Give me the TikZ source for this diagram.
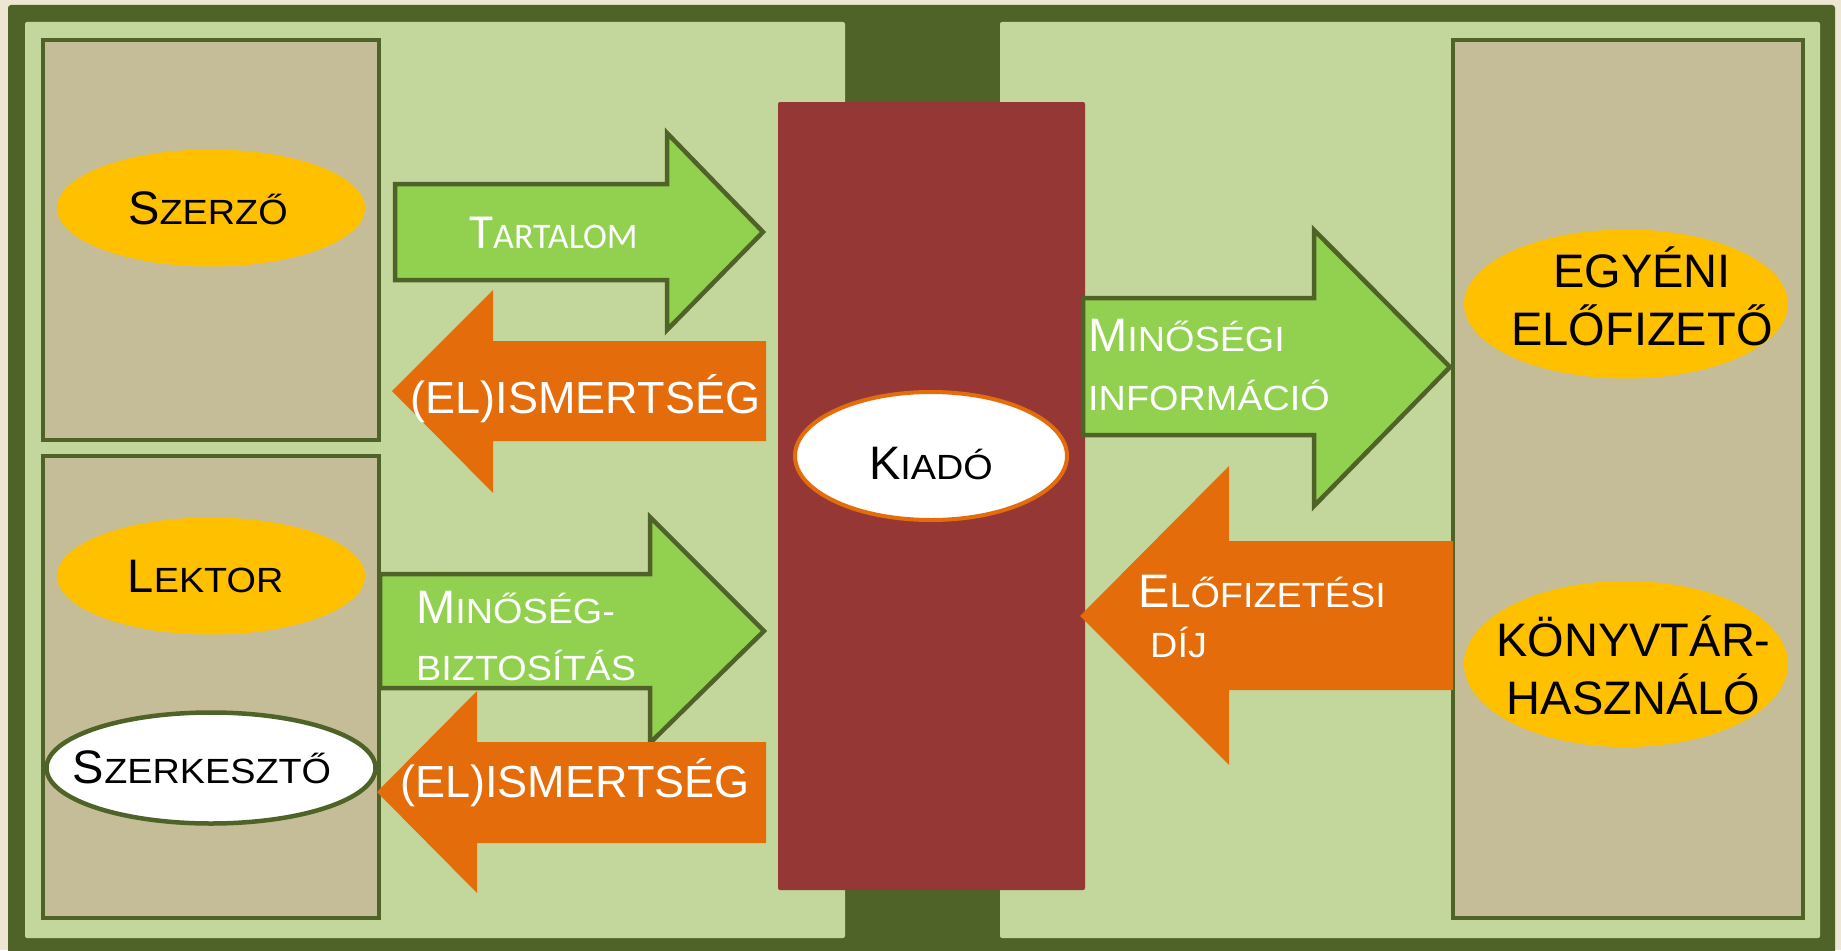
\documentclass[tikz,border=0pt]{standalone}
\usepackage{fontspec}
\setmainfont{Liberation Sans}
\newfontfamily\kisfont[FakeStretch=1.08]{Liberation Sans}
\newfontfamily\calibri{Carlito}
\usetikzlibrary{positioning,shapes.geometric}

\definecolor{hatter}{HTML}{ECE6D2}
\definecolor{sotetzold}{HTML}{4F6228}
\definecolor{vilagzold}{HTML}{C3D69B}
\definecolor{bezs}{HTML}{C4BD97}
\definecolor{bordo}{HTML}{953735}
\definecolor{nyilzold}{HTML}{92D050}
\definecolor{narancs}{HTML}{E46C0A}
\definecolor{sarga}{HTML}{FFC000}

% kiskapitalis: nagy kezdobetu + kisebb nagybetuk
\newcommand{\nagy}{\fontsize{47}{56}\selectfont}
\newcommand{\kicsi}{\kisfont\fontsize{35}{42}\selectfont}
\newcommand{\kiskap}[2]{{\nagy #1}{\kicsi #2}}

\begin{document}
\begin{tikzpicture}[x=1pt,y=-1pt]
    \tikzstyle{keret} = [fill=sotetzold, rounded corners=3pt]
    \tikzstyle{panel} = [fill=vilagzold, rounded corners=2pt]
    \tikzstyle{doboz} = [draw=sotetzold, line width=4.5pt, fill=bezs]
    \tikzstyle{szereplo} = [ellipse, fill=sarga, inner sep=0pt, minimum width=308pt, minimum height=117pt]
    \tikzstyle{zoldnyil} = [fill=nyilzold, draw=sotetzold, line width=4.5pt, line join=miter]
    \tikzstyle{narancsnyil} = [fill=narancs]
    \tikzstyle{fekete} = [inner sep=0pt, anchor=base]
    \tikzstyle{feher} = [inner sep=0pt, text=white]

    \useasboundingbox (0,0) rectangle (1841,950);
    \fill[hatter] (0,0) rectangle (1841,950);

    % keret es ket panel
    \fill[keret] (8,5) rectangle (1835,960);
    \fill[panel] (25,22) rectangle (845,938);
    \fill[panel] (1000,22) rectangle (1820,938);

    % dobozok
    \draw[doboz] (43,40) rectangle (379,440);
    \draw[doboz] (43,456) rectangle (379,918);
    \draw[doboz] (1453,40) rectangle (1803,918);

    % kiado
    \fill[bordo, rounded corners=2pt] (778,102) rectangle (1085,890);
    \node[ellipse, fill=white, draw=narancs, line width=4pt, minimum width=272pt, minimum height=128pt] (kiado) at (931,456) {};
    \node[fekete] (kiadotxt) at (931,479) {\kiskap{K}{IADÓ}};

    % szereplok
    \node[szereplo] (szerzo) at (211,208) {};
    \node[fekete] (szerzotxt) at (208,224) {\kiskap{S}{ZERZŐ}};

    \node[szereplo] (lektor) at (211,576) {};
    \node[fekete] (lektortxt) at (205.5,592) {\kiskap{L}{EKTOR}};

    \node[szereplo, fill=white, draw=sotetzold, line width=4.5pt, minimum width=329pt, minimum height=111pt] (szerk) at (211,768) {};
    \node[fekete] (szerktxt) at (202,783) {\kiskap{S}{ZERKESZTŐ}};

    \node[szereplo, minimum width=324pt, minimum height=149pt] (egyeni) at (1626,304) {};
    \node[fekete, font=\nagy] (egyeni1) at (1642,287) {EGYÉNI};
    \node[fekete, font=\nagy] (egyeni2) at ([yshift=-58pt]egyeni1.base) {ELŐFIZETŐ};

    \node[szereplo, minimum width=324pt, minimum height=166pt] (konyvtar) at (1626,664) {};
    \node[fekete, font=\nagy] (konyvtar1) at (1633.5,656) {KÖNYVTÁR-};
    \node[fekete, font=\nagy] (konyvtar2) at ([yshift=-58pt]konyvtar1.base) {HASZNÁLÓ};

    % nyilak
    \draw[zoldnyil] (395,184) -- (667,184) -- (667,133) -- (763,232) -- (667,330) -- (667,280) -- (395,280) -- cycle;
    \draw[zoldnyil] (380,574) -- (650,574) -- (650,517) -- (764,631) -- (650,743) -- (650,688) -- (380,688) -- cycle;
    \draw[zoldnyil] (1083,298) -- (1314,298) -- (1314,230) -- (1450,367) -- (1314,506) -- (1314,435) -- (1083,435) -- cycle;
    \fill[narancsnyil] (392,391) -- (493,290) -- (493,341) -- (766,341) -- (766,441) -- (493,441) -- (493,493) -- cycle;
    \fill[narancsnyil] (377,792) -- (477,691) -- (477,742) -- (766,742) -- (766,843) -- (477,843) -- (477,893) -- cycle;
    \fill[narancsnyil] (1080,616) -- (1229,466) -- (1229,541) -- (1453,541) -- (1453,690) -- (1229,690) -- (1229,765) -- cycle;

    % nyilfeliratok
    \node[feher, anchor=base] (tartalom) at (553.5,248) {\calibri\fontsize{49}{56}\selectfont T\fontsize{36}{42}\selectfont ARTALOM};
    \node[feher, anchor=base, font=\fontsize{45}{54}\selectfont] (elism1) at (585.5,413) {(EL)ISMERTSÉG};
    \node[feher, anchor=base west] (minoseg1) at (416,623) {\kiskap{M}{INŐSÉG-}};
    \node[feher, anchor=base west] (minoseg2) at (416,680) {\kicsi BIZTOSÍTÁS};
    \node[feher, anchor=base, font=\fontsize{45}{54}\selectfont] (elism2) at (575,797.7) {(EL)ISMERTSÉG};
    \node[feher, anchor=base west] (info1) at (1088,351.7) {\kiskap{M}{INŐSÉGI}};
    \node[feher, anchor=base west] (info2) at (1088,410) {\kicsi INFORMÁCIÓ};
    \node[feher, anchor=base west] (dij1) at (1138,607) {\kiskap{E}{LŐFIZETÉSI}};
    \node[feher, anchor=base west] (dij2) at (1150,657) {\kicsi DÍJ};
\end{tikzpicture}
\end{document}
